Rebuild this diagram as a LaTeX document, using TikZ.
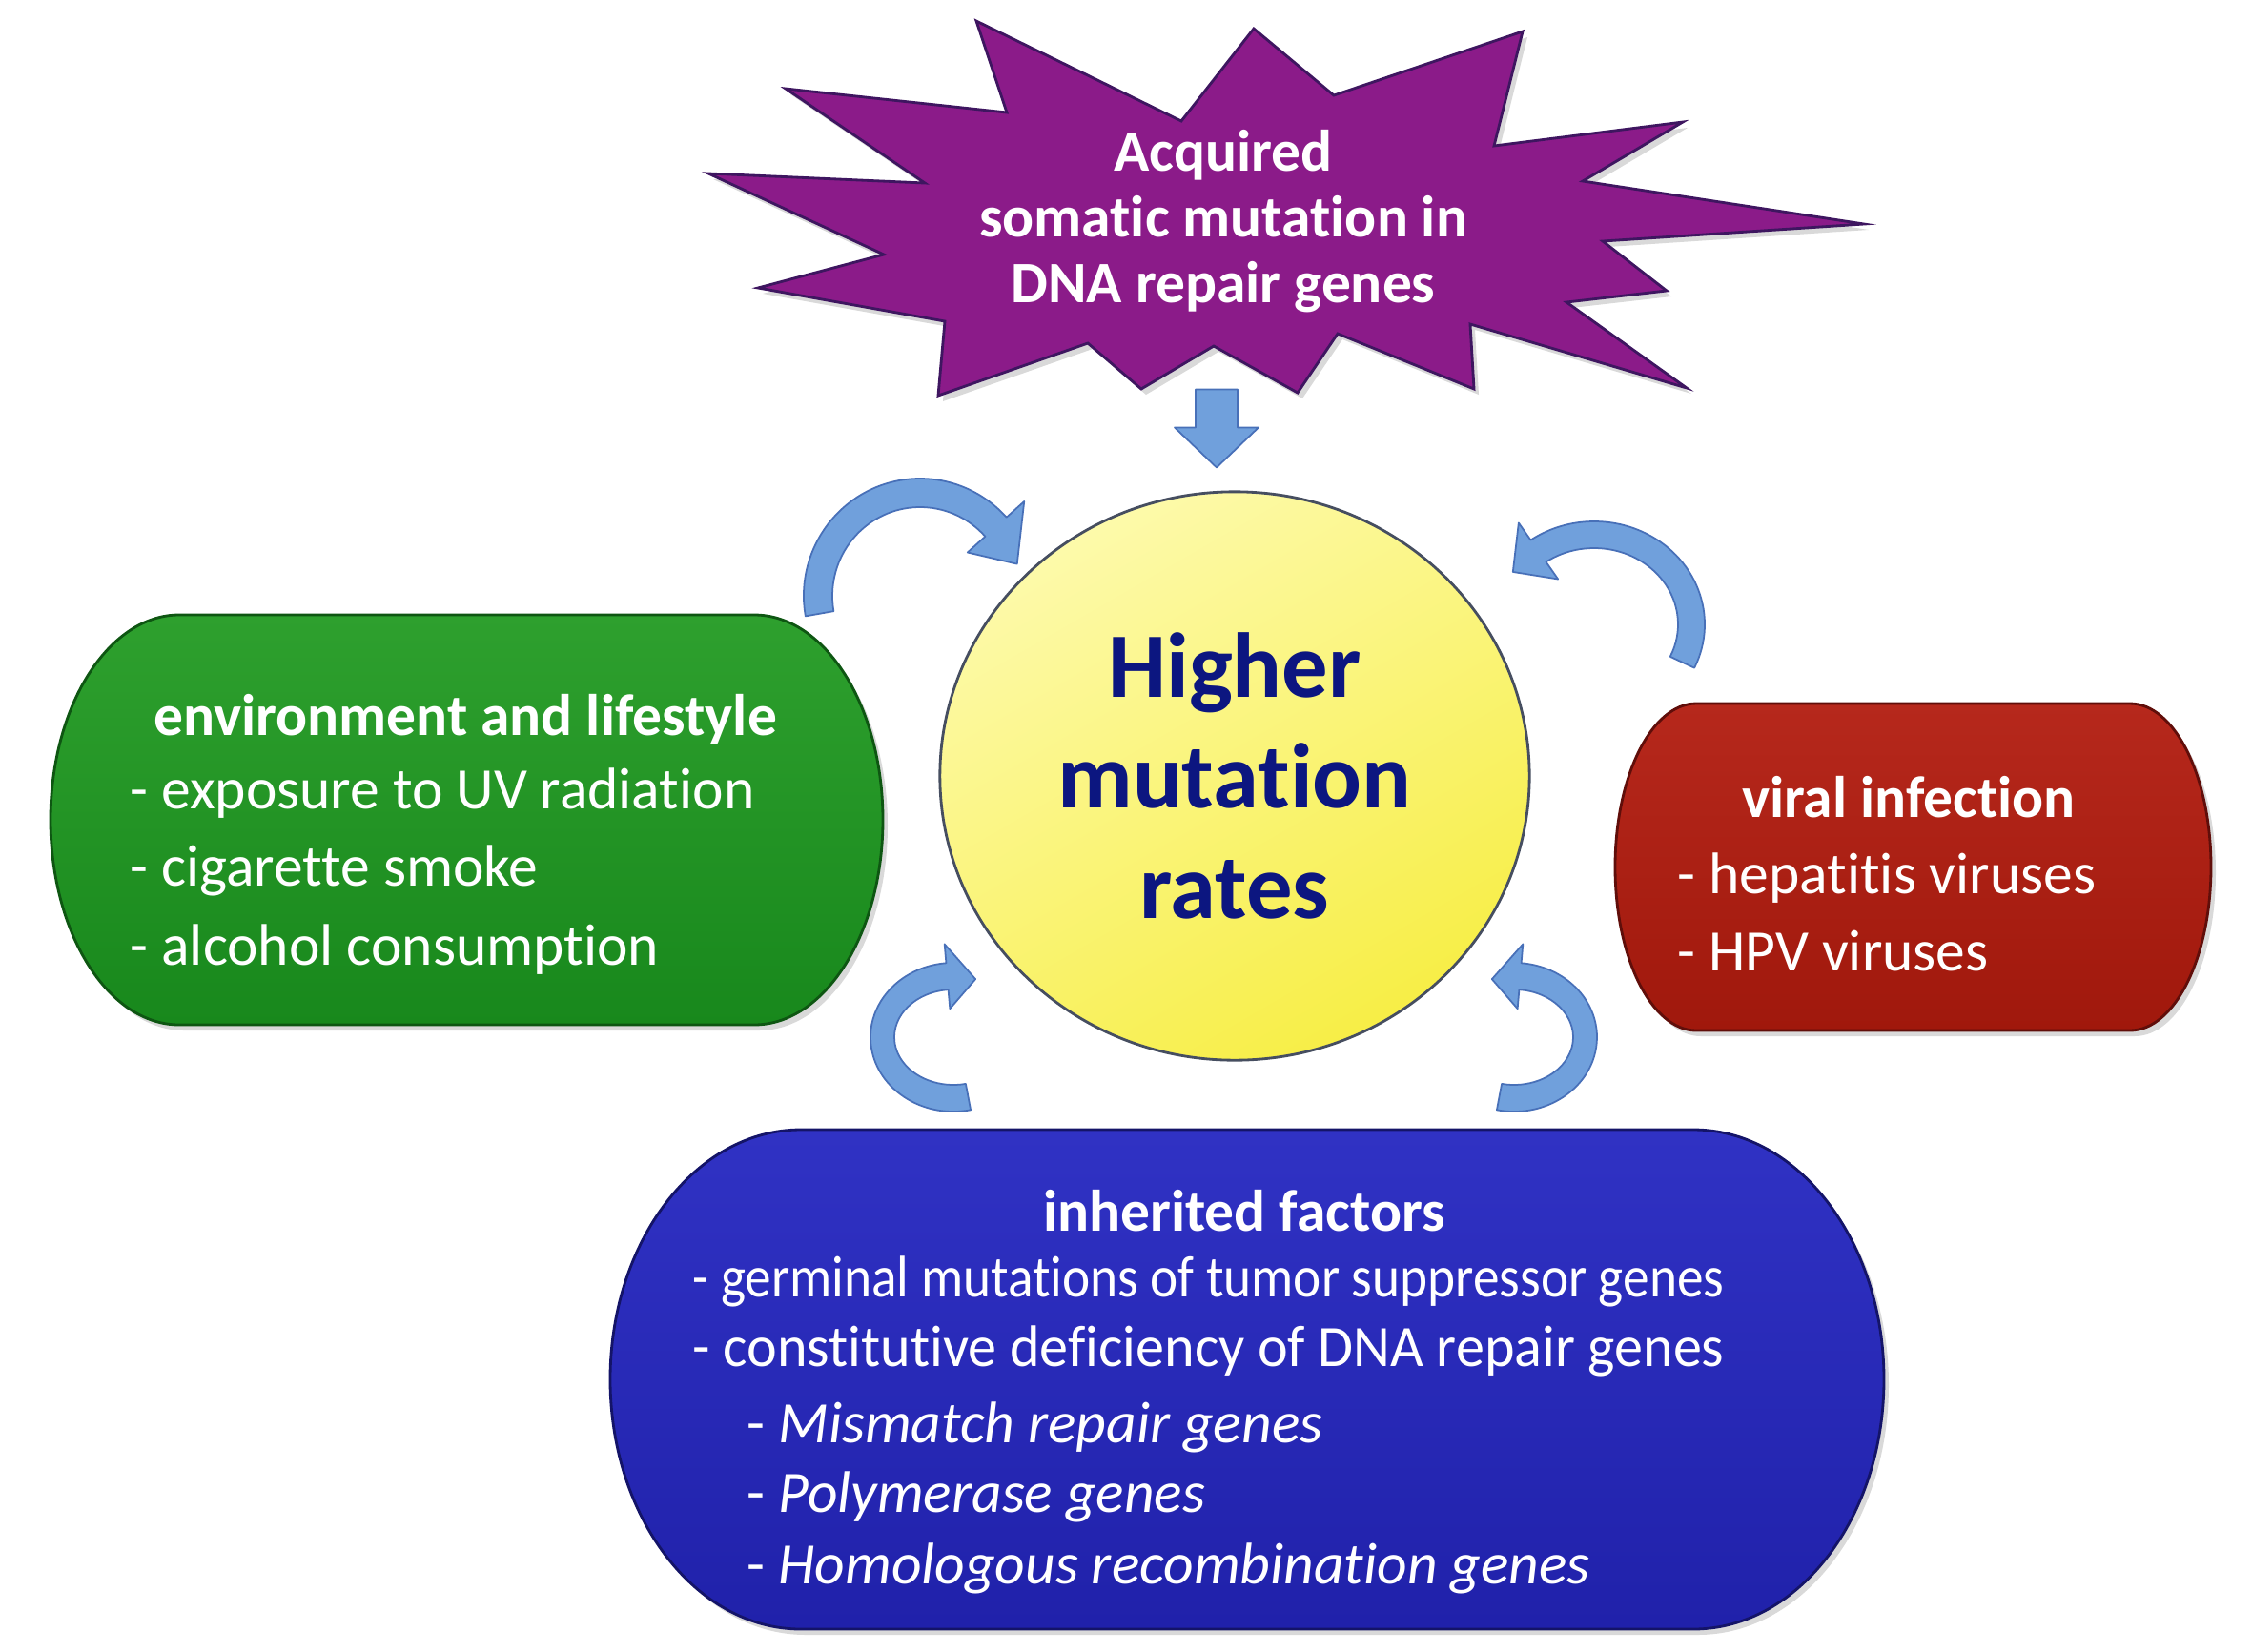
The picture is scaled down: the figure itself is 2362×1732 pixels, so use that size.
\documentclass[tikz,border=0pt]{standalone}
\usepackage{fontspec}
\setmainfont{Carlito}[Ligatures=NoCommon]
\usepackage{graphicx}
\usetikzlibrary{calc,shapes.geometric,shadows}

\definecolor{starpurple}{RGB}{139,27,137}
\definecolor{staredge}{RGB}{62,22,96}
\definecolor{greenfill}{RGB}{24,136,28}
\definecolor{greentop}{RGB}{46,160,46}
\definecolor{greenedge}{RGB}{14,86,18}
\definecolor{redfill}{RGB}{160,24,12}
\definecolor{redtop}{RGB}{182,40,28}
\definecolor{rededge}{RGB}{96,14,10}
\definecolor{bluefill}{RGB}{32,33,170}
\definecolor{bluetop}{RGB}{48,50,196}
\definecolor{blueedge}{RGB}{20,20,104}
\definecolor{yellowtop}{RGB}{253,250,170}
\definecolor{yellowbottom}{RGB}{247,238,70}
\definecolor{circleedge}{RGB}{70,78,96}
\definecolor{navytext}{RGB}{12,22,128}
\definecolor{arrowblue}{RGB}{112,160,220}
\definecolor{arrowedge}{RGB}{72,112,184}

\begin{document}
\begin{tikzpicture}[x=0.01cm, y=0.01cm,
    boxtext/.style={inner sep=0pt, text=white, font=\fontsize{17.5}{21}\selectfont},
    boxtitle/.style={inner sep=0pt, text=white, font=\fontsize{17.5}{21}\selectfont\bfseries},
    itemtext/.style={boxtext, anchor=mid west},
    curvearrow/.style={fill=arrowblue, draw=arrowedge, line width=0.5pt, line join=round},
    panel/.style={line width=0.8pt, drop shadow={opacity=0.3, shadow xshift=0.05cm, shadow yshift=-0.06cm}}
  ]
  \useasboundingbox (0,0) rectangle (2362,-1732);

  % Environment and lifestyle
  \path[panel, draw=greenedge, top color=greentop, bottom color=greenfill]
    (188,-645) -- (791,-645) arc[start angle=90, end angle=-90, x radius=135, y radius=215]
    -- (188,-1075) arc[start angle=270, end angle=90, x radius=135, y radius=215] -- cycle;
  \node[boxtitle] (envtitle) at (488,-755) {environment and lifestyle};
  \node[itemtext] (env1) at (136,-840) {- exposure to UV radiation};
  \node[itemtext] (env2) at (136,-921) {- cigarette smoke};
  \node[itemtext] (env3) at (136,-1004) {- alcohol consumption};

  % Viral infection
  \path[panel, draw=rededge, top color=redtop, bottom color=redfill]
    (1779,-738) -- (2234,-738) arc[start angle=90, end angle=-90, x radius=85, y radius=171.5]
    -- (1779,-1081) arc[start angle=270, end angle=90, x radius=85, y radius=171.5] -- cycle;
  \node[boxtitle] (virtitle) at (2002,-836) {viral infection};
  \node[itemtext] (vir1) at (1759,-929) {- hepatitis viruses};
  \node[itemtext] (vir2) at (1759,-1010) {- HPV viruses};

  % Inherited factors
  \path[panel, draw=blueedge, top color=bluetop, bottom color=bluefill]
    (840,-1185) -- (1776,-1185) arc[start angle=90, end angle=-90, x radius=200, y radius=262]
    -- (840,-1709) arc[start angle=270, end angle=90, x radius=200, y radius=262] -- cycle;
  \node[boxtitle] (inhtitle) at (1305,-1270) {inherited factors};
  \node[itemtext] (inh1) at (726,-1352) {\resizebox{307.6pt}{\height}{- germinal mutations of tumor suppressor genes}};
  \node[itemtext] (inh2) at (726,-1425) {\resizebox{307.6pt}{\height}{- constitutive deficiency of DNA repair genes}};
  \node[itemtext] (inh3) at (783,-1505) {- \textit{Mismatch repair genes}};
  \node[itemtext] (inh4) at (783,-1578) {- \textit{Polymerase genes}};
  \node[itemtext] (inh5) at (783,-1653) {- \textit{Homologous recombination genes}};

  % Acquired somatic mutation (star)
  \path[panel, draw=staredge, fill=starpurple, line join=miter]
    (743,-182) -- (970,-192) -- (824,-93) -- (1056,-118) -- (1024,-22) -- (1239,-127)
    -- (1315,-30) -- (1399,-100) -- (1597,-33) -- (1567,-153) -- (1765,-128) -- (1660,-190)
    -- (1955,-235) -- (1681,-253) -- (1748,-305) -- (1643,-317) -- (1769,-407) -- (1542,-340)
    -- (1546,-408) -- (1403,-350) -- (1361,-412) -- (1273,-363) -- (1197,-408) -- (1141,-360)
    -- (984,-415) -- (991,-337) -- (795,-302) -- (927,-267) -- cycle;
  \node[boxtitle, align=center, font=\fontsize{17.5}{19.6}\selectfont\bfseries] (acquired) at (1283,-232)
    {Acquired\\somatic mutation in\\DNA repair genes};

  % Higher mutation rates
  \node[ellipse, minimum width=6.18cm, minimum height=5.96cm, inner sep=0pt, draw=circleedge,
    line width=0.8pt, top color=yellowtop, bottom color=yellowbottom, shading angle=30,
    text=navytext, font=\fontsize{27.5}{33}\selectfont\bfseries, align=center]
    (rates) at (1295,-814) {Higher\\mutation\\rates};

  % Arrow from the star
  \coordinate (droptip) at ($(rates.north)+(-19,24)$);
  \path[curvearrow] ($(droptip)+(-22,82)$) -- ($(droptip)+(22,82)$) -- ($(droptip)+(22,42)$)
    -- ($(droptip)+(44,42)$) -- (droptip) -- ($(droptip)+(-44,42)$) -- ($(droptip)+(-22,42)$) -- cycle;

  % Curved arrows
  \coordinate (c1) at (965,-625);
  \path[curvearrow] ($(c1)+(190:122 and 123)$) arc[start angle=190, end angle=42, x radius=122, y radius=123]
    -- ($(c1)+(42:147 and 148)$) -- ($(c1)+(18:107 and 108)$) -- ($(c1)+(42:67 and 68)$)
    -- ($(c1)+(42:92 and 93)$) arc[start angle=42, end angle=190, x radius=92, y radius=93] -- cycle;

  \coordinate (c2) at (1672,-655);
  \path[curvearrow] ($(c2)+(-25:116 and 108)$) arc[start angle=-25, end angle=125, x radius=116, y radius=108]
    -- ($(c2)+(125:138 and 130)$) -- ($(c2)+(145:104 and 96)$) -- ($(c2)+(125:66 and 58)$)
    -- ($(c2)+(125:88 and 80)$) arc[start angle=125, end angle=-25, x radius=88, y radius=80] -- cycle;

  \coordinate (c3) at (1000,-1088);
  \path[curvearrow] ($(c3)+(282:87 and 78)$) arc[start angle=282, end angle=95, x radius=87, y radius=78]
    -- ($(c3)+(95:107 and 98)$) -- ($(c3)+(72:75 and 64)$) -- ($(c3)+(95:42 and 30)$)
    -- ($(c3)+(95:62 and 50)$) arc[start angle=95, end angle=282, x radius=62, y radius=50] -- cycle;

  \coordinate (c4) at (1588,-1088);
  \path[curvearrow] ($(c4)+(-102:87 and 78)$) arc[start angle=-102, end angle=85, x radius=87, y radius=78]
    -- ($(c4)+(85:107 and 98)$) -- ($(c4)+(108:75 and 64)$) -- ($(c4)+(85:42 and 30)$)
    -- ($(c4)+(85:62 and 50)$) arc[start angle=85, end angle=-102, x radius=62, y radius=50] -- cycle;
\end{tikzpicture}
\end{document}
